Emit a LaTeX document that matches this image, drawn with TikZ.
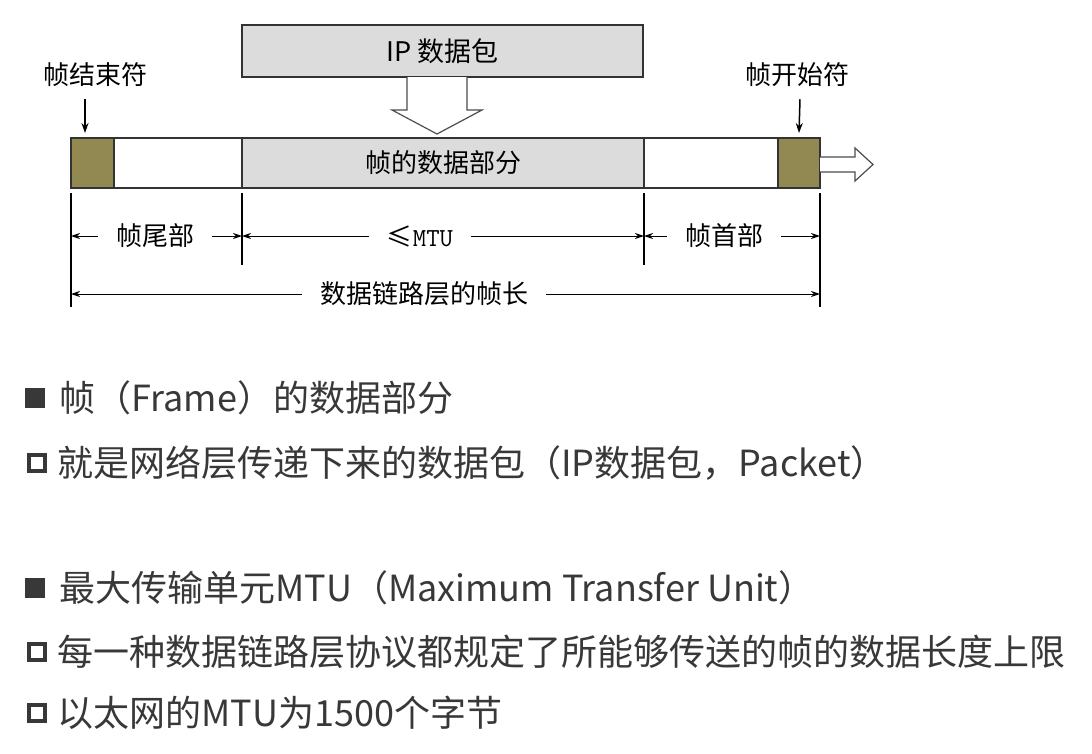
\documentclass[tikz,border=0pt]{standalone}
\usepackage{fontspec}
\newfontfamily\cjk{Noto Sans CJK SC}
\usetikzlibrary{arrows.meta,calc,positioning}
\definecolor{sfdbrown}{RGB}{146,136,82}
\definecolor{fieldgray}{HTML}{DCDCDC}
\definecolor{txtgray}{HTML}{383838}

\begin{document}
\begin{tikzpicture}[x=1pt,y=-1pt,
    fld/.style={draw=black!80,line width=1.2pt,minimum height=50pt,inner sep=0pt,outer sep=0pt,anchor=north west},
    lbl/.style={font=\cjk\fontsize{26}{28}\selectfont,inner sep=0pt},
    dimlbl/.style={lbl,inner xsep=18pt},
    dim/.style={-{Stealth[length=9pt,width=6pt]},line width=1pt},
    pin/.style={-{Stealth[length=10pt,width=7pt]},line width=1.5pt},
    tck/.style={line width=1.2pt},
    hollow/.style={draw=black!70,line width=1.2pt,fill=white},
    item/.style={font=\cjk\fontsize{36}{40}\selectfont,text=txtgray,anchor=west,inner sep=0pt},
    fullsq/.style={fill=txtgray,minimum size=20pt,inner sep=0pt},
    opensq/.style={draw=txtgray,line width=4.5pt,minimum size=16pt,inner sep=0pt}
  ]
    \useasboundingbox (0,0) rectangle (1092,753);
    % frame fields
    \node[fld,fill=sfdbrown,minimum width=43pt] (efd) at (71,138) {};
    \node[fld,minimum width=128pt,right=0pt of efd] (trail) {};
    \node[fld,fill=fieldgray,minimum width=402pt,right=0pt of trail,font=\cjk\fontsize{26}{28}\selectfont] (data) {帧的数据部分};
    \node[fld,minimum width=134pt,right=0pt of data] (head) {};
    \node[fld,fill=sfdbrown,minimum width=42pt,right=0pt of head] (sfd) {};
    % ip packet
    \node[fld,fill=fieldgray,minimum width=401pt,minimum height=52pt,font=\cjk\fontsize{27}{30}\selectfont] (ip) at (242,25) {IP 数据包};
    \draw[hollow] (407,77) -- (407,110) -- (392,110) -- (437,134) -- (482,110) -- (467,110) -- (467,77);
    \draw[hollow] (820,157) -- (855,157) -- (855,148) -- (873,164.5) -- (855,181) -- (855,172) -- (820,172);
    % delimiters
    \node[lbl] (efdl) at (95,75) {帧结束符};
    \node[lbl] (sfdl) at (797,75) {帧开始符};
    \draw[pin] ([xshift=-10pt,yshift=-12pt]efdl.south) -- ([xshift=14pt,yshift=5pt]efd.north west);
    \draw[pin] ([xshift=3pt,yshift=-12pt]sfdl.south) -- ([yshift=5pt]sfd.north);
    % ticks
    \draw[tck] ([yshift=-5pt]efd.south west) -- ++(0,114);
    \draw[tck] ([yshift=-5pt]trail.south east) -- ++(0,72);
    \draw[tck] ([yshift=-5pt]head.south west) -- ++(0,72);
    \draw[tck] ([yshift=-5pt]sfd.south east) -- ++(0,114);
    \path ([yshift=-48pt]efd.south west) coordinate (d1)
          ([yshift=-48pt]trail.south east) coordinate (d2)
          ([yshift=-48pt]head.south west) coordinate (d3)
          ([yshift=-48pt]sfd.south east) coordinate (d4)
          ([yshift=-106pt]efd.south west) coordinate (e1)
          ([yshift=-106pt]sfd.south east) coordinate (e2);
    % dimensions
    \node[dimlbl] (tl) at (155,236) {帧尾部};
    \node[dimlbl] (ml) at (420,236) {{\cjk ≤}\texttt{MTU}};
    \node[dimlbl] (hl) at (724,236) {帧首部};
    \node[dimlbl] (fl) at (424,294) {数据链路层的帧长};
    \draw[dim] (tl.west) -- (d1); \draw[dim] (tl.east) -- (d2);
    \draw[dim] (ml.west) -- (d2); \draw[dim] (ml.east) -- (d3);
    \draw[dim] (hl.west) -- (d3); \draw[dim] (hl.east) -- (d4);
    \draw[dim] (fl.west) -- (e1); \draw[dim] (fl.east) -- (e2);
    % bullet text
    \node[fullsq] (b1) at (35,398) {};
    \node[item,right=14pt of b1] (t1) {帧（Frame）的数据部分};
    \node[opensq] (b2) at (37,463) {};
    \node[item,right=10pt of b2] (t2) {就是网络层传递下来的数据包（IP数据包，Packet）};
    \node[fullsq] (b3) at (35,588) {};
    \node[item,right=14pt of b3] (t3) {最大传输单元MTU（Maximum Transfer Unit）};
    \node[opensq] (b4) at (37,652) {};
    \node[item,right=10pt of b4] (t4) {每一种数据链路层协议都规定了所能够传送的帧的数据长度上限};
    \node[opensq] (b5) at (37,713) {};
    \node[item,right=10pt of b5] (t5) {以太网的MTU为1500个字节};
\end{tikzpicture}
\end{document}
